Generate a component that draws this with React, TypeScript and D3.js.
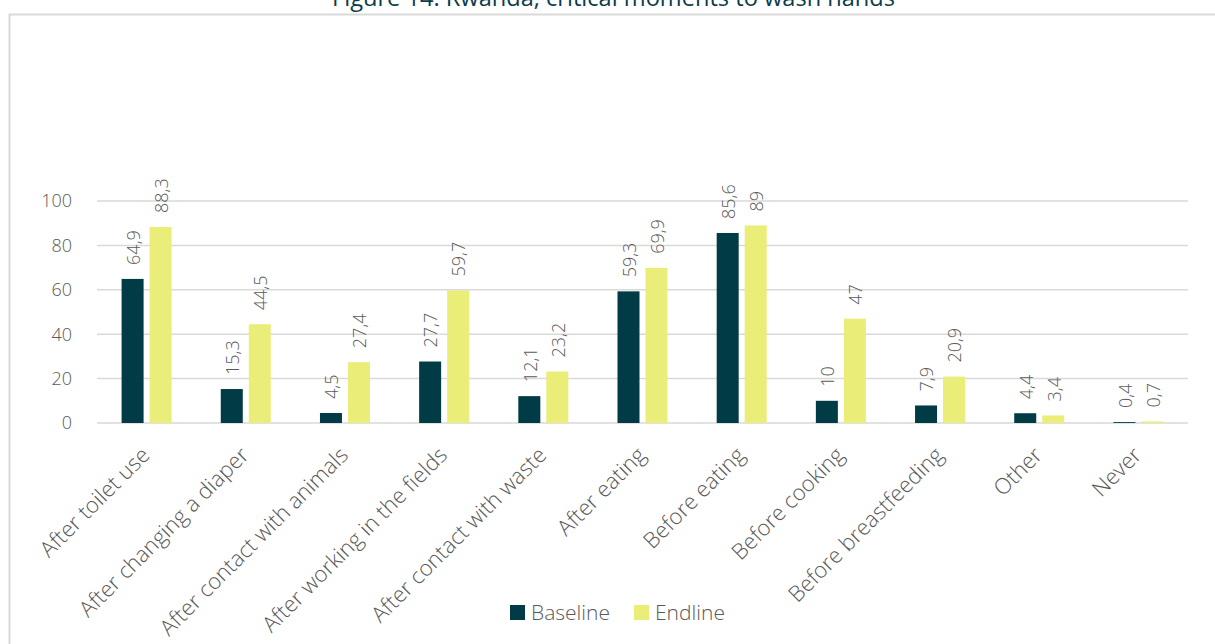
import React from "react";
import * as d3 from "d3";

const categories = [
  "After toilet use",
  "After changing a diaper",
  "After contact with animals",
  "After working in the fields",
  "After contact with waste",
  "After eating",
  "Before eating",
  "Before cooking",
  "Before breastfeeding",
  "Other",
  "Never",
];
const baseline = [64.9, 15.3, 4.5, 27.7, 12.1, 59.3, 85.6, 10, 7.9, 4.4, 0.4];
const endline = [88.3, 44.5, 27.4, 59.7, 23.2, 69.9, 89, 47, 20.9, 3.4, 0.7];
const yTicks = [0, 20, 40, 60, 80, 100];
const seriesNames = ["Baseline", "Endline"];
const colors = ["#003B46", "#EAED78"];

const W = 1215;
const H = 644;
const left = 97;
const right = 1188;
const top = 201;
const bottom = 423;
const font = "'Segoe UI', 'Open Sans', 'Noto Sans', sans-serif";
const textColor = "#595959";

export default function App() {
  const x = d3.scaleBand<string>().domain(categories).range([left, right]);
  const y = d3.scaleLinear().domain([0, 100]).range([bottom, top]);
  const barW = 22;
  const gap = 6;
  const fmt = (v: number) => String(v).replace(".", ",");
  const series = [baseline, endline];

  return (
    <div style={{ position: "fixed", left: 0, top: 0, width: W, height: H, background: "#fff" }}>
      <svg width={W} height={H} style={{ display: "block" }} fontFamily={font}>
        <rect x={0} y={0} width={W} height={H} fill="#fff" />
        <text
          x={332}
          y={6}
          fontSize={24}
          fill="#0B3C49"
          textLength={563}
          lengthAdjust="spacingAndGlyphs"
        >
          Figure 14: Rwanda, critical moments to wash hands
        </text>
        <rect x={9.5} y={14.5} width={W + 10} height={H + 10} fill="none" stroke="#D9D9D9" strokeWidth={2} />
        {yTicks.map((t) => (
          <g key={t}>
            <line x1={left} x2={right} y1={y(t)} y2={y(t)} stroke="#D9D9D9" strokeWidth={1.5} />
            <text x={72} y={y(t)} dy="0.35em" textAnchor="end" fontSize={18} fill={textColor} fontWeight={300}>
              {t}
            </text>
          </g>
        ))}
        {categories.map((c, i) => {
          const cx = (x(c) as number) + x.bandwidth() / 2;
          return (
            <g key={c}>
              {series.map((s, k) => {
                const bx = k === 0 ? cx - gap / 2 - barW : cx + gap / 2;
                const v = s[i];
                const by = y(v);
                const lx = bx + barW / 2 + 1;
                const ly = by - 14;
                return (
                  <g key={k}>
                    <rect x={bx} y={by} width={barW} height={bottom - by} fill={colors[k]} />
                    <text
                      transform={`translate(${lx},${ly}) rotate(-90)`}
                      dy="0.35em"
                      textAnchor="start"
                      fontSize={18}
                      fill={textColor}
                      fontWeight={300}
                    >
                      {fmt(v)}
                    </text>
                  </g>
                );
              })}
              <text
                transform={`translate(${cx - 1},${bottom + 28}) rotate(-45)`}
                textAnchor="end"
                dy="0.35em"
                fontSize={22}
                fill={textColor}
                fontWeight={300}
              >
                {c}
              </text>
            </g>
          );
        })}
        {seriesNames.map((n, k) => {
          const lx = k === 0 ? 510 : 634;
          return (
            <g key={n}>
              <rect x={lx} y={605} width={15} height={15} fill={colors[k]} />
              <text x={lx + 21} y={613} dy="0.35em" fontSize={21} fill={textColor} fontWeight={300}>
                {n}
              </text>
            </g>
          );
        })}
      </svg>
    </div>
  );
}
